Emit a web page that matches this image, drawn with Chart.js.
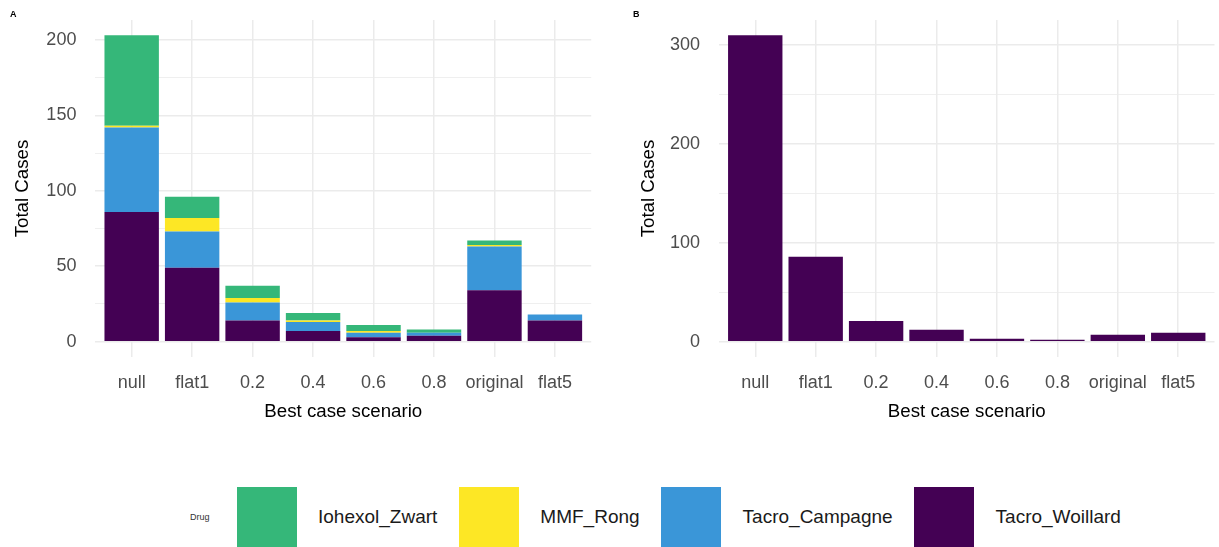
<!DOCTYPE html>
<html>
<head>
<meta charset="utf-8">
<script src="https://cdn.jsdelivr.net/npm/chart.js@4/dist/chart.umd.min.js"></script>
<style>
html,body{margin:0;padding:0;background:#fff;}
#wrap{position:relative;width:1219px;height:547px;overflow:hidden;font-family:"Liberation Sans",Arial,sans-serif;background:#fff;}
canvas{position:absolute;top:0;}
#cA{left:0;}
#cB{left:610px;}
.tag{position:absolute;top:9px;font-weight:bold;font-size:9px;color:#000;line-height:10px;}
#legend{position:absolute;left:190px;top:487px;height:60px;display:flex;align-items:center;color:#1a1a1a;}
#legend .title{font-size:9px;margin-right:27px;color:#333;}
#legend .key{width:60px;height:60px;flex:none;}
#legend .lab{font-size:19px;margin:0 21.5px;white-space:nowrap;}
</style>
</head>
<body>
<div id="wrap">
  <canvas id="cA" width="610" height="440" style="width:610px;height:440px"></canvas>
  <canvas id="cB" width="609" height="440" style="width:609px;height:440px"></canvas>
  <div class="tag" style="left:10px">A</div>
  <div class="tag" style="left:633px">B</div>
  <div id="legend"></div>
</div>
<script>
// ---- data ----
const categories = ['null', 'flat1', '0.2', '0.4', '0.6', '0.8', 'original', 'flat5'];
const seriesNames = ['Iohexol_Zwart', 'MMF_Rong', 'Tacro_Campagne', 'Tacro_Woillard'];
const iohexolZwart  = [60, 14, 8, 5, 4, 2, 3, 0];
const mmfRong       = [1, 9, 3, 1, 1, 0, 1, 0];
const tacroCampagne = [56, 24, 12, 6, 3, 2, 29, 4];
const tacroWoillard = [86, 49, 14, 7, 3, 4, 34, 14];
const panelBWoillard = [310, 86, 21, 12, 3, 2, 7, 9];
const panelATicks = [0, 50, 100, 150, 200];
const panelBTicks = [0, 100, 200, 300];
const legendTitle = 'Drug';
const xTitle = 'Best case scenario';
const yTitle = 'Total Cases';

// ---- styles ----
const seriesColors = {
  'Iohexol_Zwart': '#35B779',
  'MMF_Rong': '#FDE725',
  'Tacro_Campagne': '#3A96D8',
  'Tacro_Woillard': '#440154'
};
const GRID = '#EBEBEB';
const FONT = '"Liberation Sans", Arial, sans-serif';

function pts(arr) { return arr.map((v, i) => ({x: i + 1, y: v})); }

function makeChart(id, datasets, majors, yWidth, padRight, yTitlePad) {
  const step = majors[1] - majors[0];
  const minors = [];
  for (let i = 0; i < majors.length - 1; i++) minors.push(majors[i] + step / 2);
  const allTicks = majors.concat(minors).sort((a, b) => a - b);
  const totals = categories.map((_, i) => datasets.reduce((s, d) => s + d.data[i].y, 0));
  const maxT = Math.max(...totals);
  const exp = maxT * 0.05;
  const top = majors[majors.length - 1] + step / 2;
  if (top < maxT + exp) allTicks.push(top);
  return new Chart(document.getElementById(id), {
    type: 'bar',
    data: {datasets},
    options: {
      responsive: false,
      animation: false,
      devicePixelRatio: 1,
      layout: {padding: {top: 20, right: padRight, left: 0, bottom: 0}},
      plugins: {legend: {display: false}, tooltip: {enabled: false}},
      datasets: {bar: {barPercentage: 0.9, categoryPercentage: 1.0}},
      scales: {
        x: {
          type: 'linear',
          stacked: true,
          offset: false,
          min: 0.4,
          max: categories.length + 0.6,
          afterBuildTicks: (s) => { s.ticks = categories.map((c, i) => ({value: i + 1})); },
          afterFit: (s) => { s.height = 83; s.paddingLeft = 0; s.paddingRight = 0; },
          ticks: {
            callback: (v) => categories[Math.round(v) - 1],
            font: {family: FONT, size: 18},
            color: '#4D4D4D',
            padding: 15,
            maxRotation: 0,
            autoSkip: false
          },
          grid: {color: GRID, lineWidth: 1.5, drawTicks: false, offset: false},
          border: {display: false},
          title: {display: true, text: xTitle, font: {family: FONT, size: 18.7}, color: '#000', padding: {top: 0, bottom: 17}}
        },
        y: {
          type: 'linear',
          stacked: true,
          min: -exp,
          max: maxT + exp,
          afterBuildTicks: (s) => { s.ticks = allTicks.map(v => ({value: v})); },
          afterFit: (s) => { s.width = yWidth; s.paddingTop = 0; s.paddingBottom = 0; },
          ticks: {
            callback: (v) => majors.includes(v) ? String(v) : '',
            font: {family: FONT, size: 18},
            color: '#4D4D4D',
            padding: 19,
            autoSkip: false
          },
          grid: {
            color: GRID,
            lineWidth: (ctx) => (ctx.tick && majors.includes(ctx.tick.value)) ? 1.5 : 0.8,
            drawTicks: false
          },
          border: {display: false},
          title: {display: true, text: yTitle, font: {family: FONT, size: 18.7}, color: '#000', padding: {top: yTitlePad, bottom: 0}}
        }
      }
    }
  });
}

const datasetsA = [
  {label: 'Tacro_Woillard', data: pts(tacroWoillard), backgroundColor: seriesColors['Tacro_Woillard']},
  {label: 'Tacro_Campagne', data: pts(tacroCampagne), backgroundColor: seriesColors['Tacro_Campagne']},
  {label: 'MMF_Rong', data: pts(mmfRong), backgroundColor: seriesColors['MMF_Rong']},
  {label: 'Iohexol_Zwart', data: pts(iohexolZwart), backgroundColor: seriesColors['Iohexol_Zwart']}
];
const datasetsB = [
  {label: 'Tacro_Woillard', data: pts(panelBWoillard), backgroundColor: seriesColors['Tacro_Woillard']}
];

makeChart('cA', datasetsA, panelATicks, 95.4, 18.8, 12);
makeChart('cB', datasetsB, panelBTicks, 109, 4.5, 27.5);

// legend
const lg = document.getElementById('legend');
const t = document.createElement('span'); t.className = 'title'; t.textContent = legendTitle; lg.appendChild(t);
seriesNames.forEach(n => {
  const k = document.createElement('div'); k.className = 'key'; k.style.background = seriesColors[n]; lg.appendChild(k);
  const l = document.createElement('span'); l.className = 'lab'; l.textContent = n; lg.appendChild(l);
});
</script>
</body>
</html>
